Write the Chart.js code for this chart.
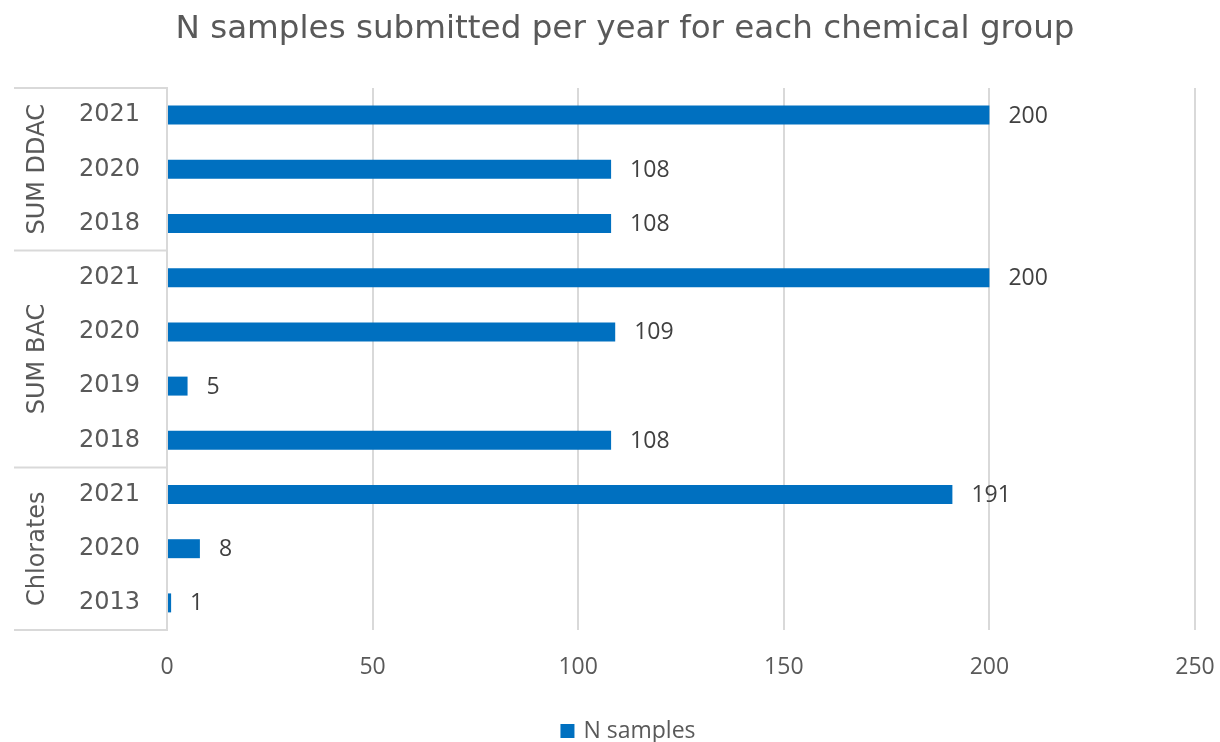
<!DOCTYPE html>
<html><head><meta charset="utf-8">
<script src="https://cdn.jsdelivr.net/npm/chart.js@4/dist/chart.umd.min.js"></script>
<style>html,body{margin:0;padding:0;background:#fff}</style>
</head><body>
<canvas id="c" width="1220" height="742" style="width:1220px;height:742px"></canvas>
<script>
const chartTitle = 'N samples submitted per year for each chemical group';
const seriesName = 'N samples';
const years = ['2021','2020','2018','2021','2020','2019','2018','2021','2020','2013'];
const groups = ['SUM DDAC','SUM BAC','Chlorates'];
const groupSizes = [3,4,3];
const nSamples = [200,108,108,200,109,5,108,191,8,1];
const xMin = 0, xMax = 250, xStep = 50;
const barColor = '#0070C0';

const groupPlugin = {
  id: 'groupPlugin',
  afterDraw(chart) {
    const ctx = chart.ctx, y = chart.scales.y, ca = chart.chartArea;
    const left = 14, right = ca.left - 1;
    ctx.save();
    // title
    ctx.fillStyle = '#595959';
    ctx.font = '32.6px "DejaVu Sans"';
    ctx.textAlign = 'center';
    ctx.textBaseline = 'middle';
    ctx.fillText(chartTitle, 625, 30);

    // legend
    ctx.font = '23px "Open Sans"';
    ctx.textAlign = 'left';
    const lw = ctx.measureText(seriesName).width;
    const lx = 625 - (14 + 9 + lw) / 2 + 3;
    ctx.fillStyle = barColor;
    ctx.fillRect(lx, 724, 14, 14);
    ctx.fillStyle = '#595959';
    ctx.fillText(seriesName, lx + 23, 731);

    ctx.strokeStyle = '#d9d9d9';
    ctx.lineWidth = 2;
    let idx = 0;
    const bounds = [ca.top];
    groupSizes.forEach(n => {
      idx += n;
      if (idx < years.length) bounds.push((y.getPixelForValue(idx - 1) + y.getPixelForValue(idx)) / 2);
    });
    bounds.push(ca.bottom);
    bounds.forEach(b => {
      ctx.beginPath(); ctx.moveTo(left, b); ctx.lineTo(right, b); ctx.stroke();
    });
    ctx.fillStyle = '#595959';
    ctx.font = '24px "DejaVu Sans"';
    ctx.textAlign = 'center';
    groups.forEach((g, i) => {
      const cy = (bounds[i] + bounds[i + 1]) / 2;
      ctx.save();
      ctx.translate(38, cy);
      ctx.rotate(-Math.PI / 2);
      ctx.fillText(g, 0, 0);
      ctx.restore();
    });
    // data labels
    const meta = chart.getDatasetMeta(0);
    ctx.fillStyle = '#404040';
    ctx.font = '23px "Open Sans"';
    ctx.textAlign = 'left';
    meta.data.forEach((bar, i) => {
      ctx.fillText(String(nSamples[i]), bar.x + 19, bar.y + 1);
    });
    ctx.restore();
  }
};

new Chart(document.getElementById('c'), {
  type: 'bar',
  data: {
    labels: years,
    datasets: [{
      label: seriesName,
      data: nSamples,
      backgroundColor: barColor,
      borderWidth: 0,
      barPercentage: 0.35,
      categoryPercentage: 1
    }]
  },
  options: {
    indexAxis: 'y',
    responsive: false,
    devicePixelRatio: 1,
    animation: false,
    layout: { padding: { left: 14, right: 25, top: 88, bottom: 24 } },
    scales: {
      x: {
        min: xMin, max: xMax,
        ticks: { stepSize: xStep, color: '#595959', font: { family: 'Open Sans', size: 23 }, padding: 24 },
        grid: { color: '#d9d9d9', lineWidth: 2, drawTicks: false },
        border: { display: false },
        afterFit(s) { s.height = 88; s.paddingLeft = 0; s.paddingRight = 0; }
      },
      y: {
        ticks: { color: '#595959', font: { family: 'DejaVu Sans', size: 24 }, padding: 27 },
        grid: { display: false, drawTicks: false },
        border: { display: true, color: '#d9d9d9', width: 2 },
        afterFit(s) { s.width = 153; s.paddingTop = 0; s.paddingBottom = 0; }
      }
    },
    plugins: {
      title: { display: false },
      legend: { display: false },
      tooltip: { enabled: false }
    }
  },
  plugins: [groupPlugin]
});
</script>
</body></html>
